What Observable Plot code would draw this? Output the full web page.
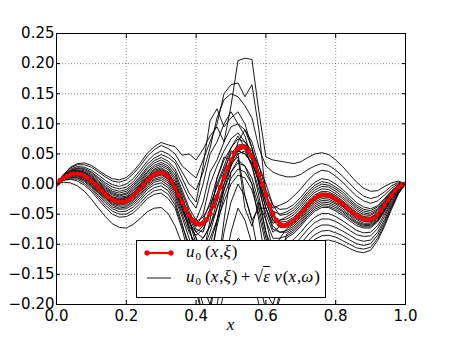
<!DOCTYPE html>
<html>
<head>
<meta charset="utf-8">
<script src="https://cdn.jsdelivr.net/npm/d3@7"></script>
<script src="https://cdn.jsdelivr.net/npm/@observablehq/plot@0.6"></script>
<style>
html, body { margin: 0; padding: 0; background: #fff; }
#wrap { position: relative; width: 450px; height: 339px; overflow: hidden; }
#legend { position: absolute; left: 136px; top: 240px; width: 188px; height: 56px; background: #fff; border: 1px solid #000; font-family: "Liberation Serif", "DejaVu Serif", serif; font-size: 17px; color: #000; }
#legend svg { position: absolute; left: 0; top: 0; }
.lt { position: absolute; left: 49px; white-space: nowrap; line-height: 17px; }
.lt sub { font-size: 11px; vertical-align: -3px; font-style: normal; margin-right: 4px; }
.lt i { margin-right: 1px; }
.ov { text-decoration: overline; }
#xlab { position: absolute; left: 0; width: 461px; top: 316px; text-align: center; font-family: "Liberation Serif", "DejaVu Serif", serif; font-style: italic; font-size: 17px; line-height: 18px; }
</style>
</head>
<body>
<div id="wrap"></div>
<script>
// x positions of the mean curve samples (step 0.01) and of realization samples (step 0.02)
const xMean = d3.range(101).map(i => i / 100);
const xReal = d3.range(51).map(i => i / 50);

// u0(x, xi): mean curve (red), read at x = 0.00, 0.01, ..., 1.00
const u0 = [
  0.000, 0.006, 0.010, 0.013, 0.016, 0.017, 0.017, 0.016, 0.013, 0.010,
  0.005, 0.000, -0.006, -0.011, -0.017, -0.022, -0.026, -0.028, -0.030, -0.030,
  -0.028, -0.025, -0.020, -0.014, -0.008, -0.001, 0.006, 0.011, 0.015, 0.018,
  0.019, 0.017, 0.012, 0.004, -0.006, -0.018, -0.030, -0.042, -0.052, -0.060,
  -0.065, -0.067, -0.065, -0.059, -0.049, -0.036, -0.021, -0.005, 0.011, 0.027,
  0.040, 0.051, 0.059, 0.062, 0.061, 0.055, 0.046, 0.032, 0.016, -0.001,
  -0.018, -0.035, -0.049, -0.060, -0.067, -0.069, -0.068, -0.065, -0.061, -0.055,
  -0.049, -0.042, -0.035, -0.029, -0.024, -0.020, -0.018, -0.018, -0.019, -0.021,
  -0.025, -0.029, -0.033, -0.038, -0.043, -0.048, -0.052, -0.055, -0.058, -0.059,
  -0.059, -0.056, -0.051, -0.044, -0.036, -0.027, -0.019, -0.011, -0.005, -0.001,
  0.000
];

// u0 + sqrt(eps) v(x, omega): realizations, values in thousandths, read at x = 0.00, 0.02, ..., 1.00
const realizationsMilli = [
  [0,16,28,34,35,31,23,15,9,7,11,21,35,51,62,69,65, 62,48,50,40,58,80,95,70,130,205,209,207,120,45,40,38,36, 34,37,44,50,52,49,40,29,16,3,-7,-12,-11,-4,2,5,0],
  [0,15,27,32,32,28,20,12,5,3,7,17,30,46,57,64,59, 50,30,20,10,40,70,100,150,165,168,145,165,90,-20,-40,-35,-30, -20,-8,6,17,23,21,13,3,-9,-20,-28,-32,-28,-18,-7,1,0],
  [0,14,25,29,28,23,15,6,-1,-4,0,9,23,38,49,55,50, 40,20,0,-10,20,60,110,140,150,145,130,110,60,30,20,15,12, 12,16,24,30,34,31,23,13,1,-11,-20,-24,-21,-13,-3,3,0],
  [0,14,23,27,26,20,11,2,-5,-8,-5,4,18,33,43,49,44, 35,10,-15,-30,30,105,125,95,110,120,100,60,20,-20,-45,-50,-46, -39,-27,-13,-2,4,2,-5,-13,-25,-35,-42,-44,-38,-26,-12,-2,0],
  [0,13,22,26,24,18,9,-1,-9,-12,-9,0,13,28,39,44,38, 25,0,-25,-40,0,50,70,100,120,100,90,70,30,-10,-35,-42,-41, -34,-22,-8,3,9,7,0,-9,-20,-31,-38,-41,-36,-24,-11,-1,0],
  [0,13,21,24,22,16,6,-4,-12,-15,-12,-3,10,25,35,40,34, 20,-10,-40,-60,-30,20,40,70,95,100,80,40,0,-40,-65,-60,-58, -51,-39,-25,-14,-8,-9,-16,-24,-35,-44,-51,-52,-45,-32,-16,-4,0],
  [0,12,20,23,20,14,4,-6,-14,-18,-15,-6,7,21,31,36,30, 15,-15,-45,-70,-50,0,30,55,75,85,70,45,10,-30,-60,-60,-54, -47,-35,-21,-10,-4,-5,-12,-21,-31,-41,-48,-50,-43,-30,-15,-3,0],
  [0,12,19,22,19,12,2,-8,-16,-20,-17,-9,4,19,28,33,27, 10,-20,-60,-100,-120,-60,10,40,60,75,70,55,30,0,-35,-52,-50, -43,-31,-17,-6,0,-2,-8,-17,-28,-38,-45,-47,-41,-28,-14,-2,0],
  [0,11,19,21,18,11,0,-10,-18,-22,-20,-11,1,16,25,30,24, 5,-25,-50,-75,-80,-40,0,30,60,80,60,30,-10,-50,-80,-70,-65, -58,-46,-32,-21,-15,-16,-22,-30,-40,-50,-56,-57,-49,-35,-18,-5,0],
  [0,11,18,20,16,9,-1,-12,-21,-24,-22,-14,-1,13,23,27,20, 0,-30,-60,-90,-130,-150,-60,0,30,70,90,60,0,-60,-110,-90,-74, -67,-55,-41,-30,-24,-25,-31,-38,-48,-57,-62,-63,-54,-39,-21,-6,0],
  [0,11,17,19,16,8,-3,-13,-22,-26,-23,-15,-3,11,21,25,18, 0,-25,-50,-70,-60,-30,10,45,40,55,60,40,20,-20,-55,-63,-62, -55,-43,-29,-18,-12,-13,-19,-28,-38,-47,-54,-55,-48,-33,-17,-4,0],
  [0,11,17,18,15,7,-4,-14,-23,-27,-25,-17,-5,10,19,23,16, -2,-28,-55,-80,-90,-70,-30,20,55,50,-20,-60,-40,-40,-70,-80,-80, -73,-61,-47,-36,-30,-31,-36,-44,-53,-62,-67,-67,-58,-41,-23,-7,0],
  [0,10,16,18,14,6,-5,-16,-25,-29,-26,-18,-6,8,17,21,14, -4,-30,-50,-62,-55,-35,-5,25,50,65,65,50,15,-20,-50,-66,-68, -62,-50,-34,-23,-17,-19,-26,-34,-43,-51,-57,-59,-52,-37,-19,-5,0],
  [0,9,15,17,12,5,-7,-18,-27,-31,-28,-21,-9,5,14,18,11, -6,-32,-60,-90,-110,-80,-40,0,35,55,50,35,5,-30,-60,-72,-71, -64,-52,-38,-27,-21,-22,-28,-36,-46,-54,-60,-61,-53,-37,-20,-5,0],
  [0,10,16,16,12,4,-7,-18,-27,-31,-30,-22,-10,4,13,17,10, -8,-35,-70,-120,-170,-200,-150,-60,20,40,30,0,-60,-130,-180,-120,-83, -76,-64,-50,-39,-33,-34,-39,-46,-56,-64,-69,-69,-60,-43,-24,-7,0],
  [0,10,15,16,11,3,-8,-20,-29,-33,-31,-23,-11,2,11,15,8, -10,-40,-65,-80,-70,-45,-15,15,40,55,50,35,5,-40,-75,-80,-77, -70,-58,-44,-33,-27,-28,-33,-41,-51,-59,-65,-65,-56,-40,-22,-6,0],
  [0,9,14,15,10,1,-10,-22,-31,-35,-33,-26,-14,0,8,12,5, -12,-40,-75,-110,-120,-100,-60,-10,30,50,55,30,-20,-80,-130,-110,-89, -82,-70,-56,-45,-39,-39,-45,-52,-61,-69,-73,-73,-63,-46,-25,-8,0],
  [0,9,14,14,9,0,-12,-23,-33,-37,-36,-28,-17,-3,6,9,2, -16,-45,-70,-85,-75,-50,-25,10,35,45,-40,-70,-30,-60,-90,-90,-86, -79,-67,-53,-42,-36,-37,-42,-49,-58,-66,-71,-71,-61,-44,-24,-8,0],
  [0,8,13,13,7,-2,-14,-25,-35,-40,-38,-31,-19,-6,3,6,-2, -20,-50,-80,-100,-90,-70,-40,-10,20,35,30,10,-30,-80,-110,-110,-108, -101,-89,-75,-64,-58,-58,-62,-69,-77,-84,-87,-86,-74,-54,-31,-11,0],
  [0,8,12,11,6,-4,-16,-28,-38,-42,-41,-34,-23,-9,-1,2,-6, -25,-55,-90,-130,-150,-120,-70,-20,10,25,20,0,-40,-90,-120,-105,-99, -92,-80,-66,-55,-49,-49,-54,-61,-69,-77,-81,-80,-69,-50,-28,-10,0],
  [0,7,11,10,4,-6,-19,-31,-41,-46,-45,-38,-27,-14,-6,-3,-11, -30,-65,-110,-160,-200,-210,-150,-80,-30,0,-20,-60,-120,-180,-200,-160,-128, -121,-109,-95,-84,-78,-77,-81,-86,-93,-99,-102,-99,-85,-63,-37,-14,0],
  [0,7,9,8,1,-9,-22,-35,-45,-50,-50,-43,-32,-19,-11,-9,-17, -35,-70,-100,-120,-110,-90,-60,-30,0,15,10,-10,-50,-100,-130,-125,-118, -111,-99,-85,-74,-68,-68,-72,-78,-85,-92,-95,-93,-80,-59,-34,-13,0],
  [0,6,8,5,-2,-12,-26,-39,-50,-55,-54,-48,-37,-24,-17,-15,-24, -40,-75,-120,-170,-220,-230,-200,-140,-80,-40,-60,-100,-160,-210,-230,-180,-136, -129,-117,-103,-92,-86,-85,-88,-94,-100,-106,-108,-105,-90,-67,-39,-15,0],
  [0,3,2,-3,-12,-25,-40,-54,-66,-72,-73,-67,-57,-46,-40,-39,-49, -70,-100,-140,-180,-220,-240,-230,-180,-120,-90,-100,-150,-200,-240,-230,-190,-144, -137,-125,-111,-100,-94,-93,-96,-101,-107,-112,-114,-110,-94,-70,-42,-16,0]
];

// tick labels
const xTicks = [0.0, 0.2, 0.4, 0.6, 0.8, 1.0];
const yTicks = [-0.20, -0.15, -0.10, -0.05, 0.00, 0.05, 0.10, 0.15, 0.20, 0.25];
const xLabel = "x";
const legendLabels = ["u0(x,ξ)", "u0(x,ξ)+√ε v(x,ω)"];

// tables built from the arrays above
const meanRows = xMean.map((x, i) => ({x, y: u0[i]}));
const realRows = realizationsMilli.flatMap((arr, k) => arr.map((v, i) => ({id: k, x: xReal[i], y: v / 1000})));

const plot = Plot.plot({
  width: 450,
  height: 339,
  marginLeft: 56,
  marginRight: 45,
  marginTop: 33,
  marginBottom: 35,
  style: {fontFamily: "'DejaVu Sans', sans-serif", fontSize: "15px", color: "#000", background: "#fff"},
  x: {domain: [0, 1]},
  y: {domain: [-0.2, 0.25]},
  marks: [
    Plot.gridX(xTicks, {stroke: "#000", strokeOpacity: 0.55, strokeWidth: 0.8, strokeDasharray: "1,2"}),
    Plot.gridY(yTicks, {stroke: "#000", strokeOpacity: 0.55, strokeWidth: 0.8, strokeDasharray: "1,2"}),
    Plot.line(realRows, {x: "x", y: "y", z: "id", stroke: "#000", strokeWidth: 0.9, clip: true}),
    Plot.line(meanRows, {x: "x", y: "y", stroke: "#ff0000", strokeWidth: 2.2, clip: true}),
    Plot.dot(meanRows, {x: "x", y: "y", r: 2.4, fill: "#ff0000", stroke: "#b00000", strokeWidth: 0.5, clip: true}),
    Plot.axisX(xTicks, {anchor: "bottom", tickSize: 0, tickPadding: 6, tickFormat: d3.format(".1f"), label: null, fontSize: 15}),
    Plot.axisY(yTicks, {anchor: "left", tickSize: 0, tickPadding: 2, tickFormat: d3.format(".2f"), label: null, fontSize: 15}),
    Plot.axisX(xTicks, {anchor: "bottom", tickSize: 4, dy: -4, tickFormat: () => "", label: null}),
    Plot.axisX(xTicks, {anchor: "top", tickSize: 4, dy: 4, tickFormat: () => "", label: null}),
    Plot.axisY(yTicks, {anchor: "left", tickSize: 4, dx: 4, tickFormat: () => "", label: null}),
    Plot.axisY(yTicks, {anchor: "right", tickSize: 4, dx: -4, tickFormat: () => "", label: null}),
    Plot.frame({stroke: "#000", strokeWidth: 1})
  ]
});

const wrap = document.getElementById("wrap");
wrap.appendChild(plot);

// axis label
const xl = document.createElement("div");
xl.id = "xlab";
xl.textContent = xLabel;
wrap.appendChild(xl);

// legend (drawn over the axes, like the original)
const lg = document.createElement("div");
lg.id = "legend";
lg.innerHTML = `
<svg width="188" height="56">
  <line x1="10" x2="34" y1="12" y2="12" stroke="#ff0000" stroke-width="2.2"/>
  <circle cx="10" cy="12" r="2.4" fill="#ff0000" stroke="#b00000" stroke-width="0.5"/>
  <circle cx="34" cy="12" r="2.4" fill="#ff0000" stroke="#b00000" stroke-width="0.5"/>
  <line x1="10" x2="34" y1="37" y2="37" stroke="#000" stroke-width="0.9"/>
</svg>
<div class="lt" style="top:2px"><i>u</i><sub>0</sub>(<i>x</i>,<i>ξ</i>)</div>
<div class="lt" style="top:27px"><i>u</i><sub>0</sub>(<i>x</i>,<i>ξ</i>)&#8201;+&#8201;√<span class="ov"><i>ε</i></span>&#8201;<i>v</i>(<i>x</i>,<i>ω</i>)</div>
`;
lg.setAttribute("aria-label", legendLabels.join("; "));
wrap.appendChild(lg);
</script>
</body>
</html>
